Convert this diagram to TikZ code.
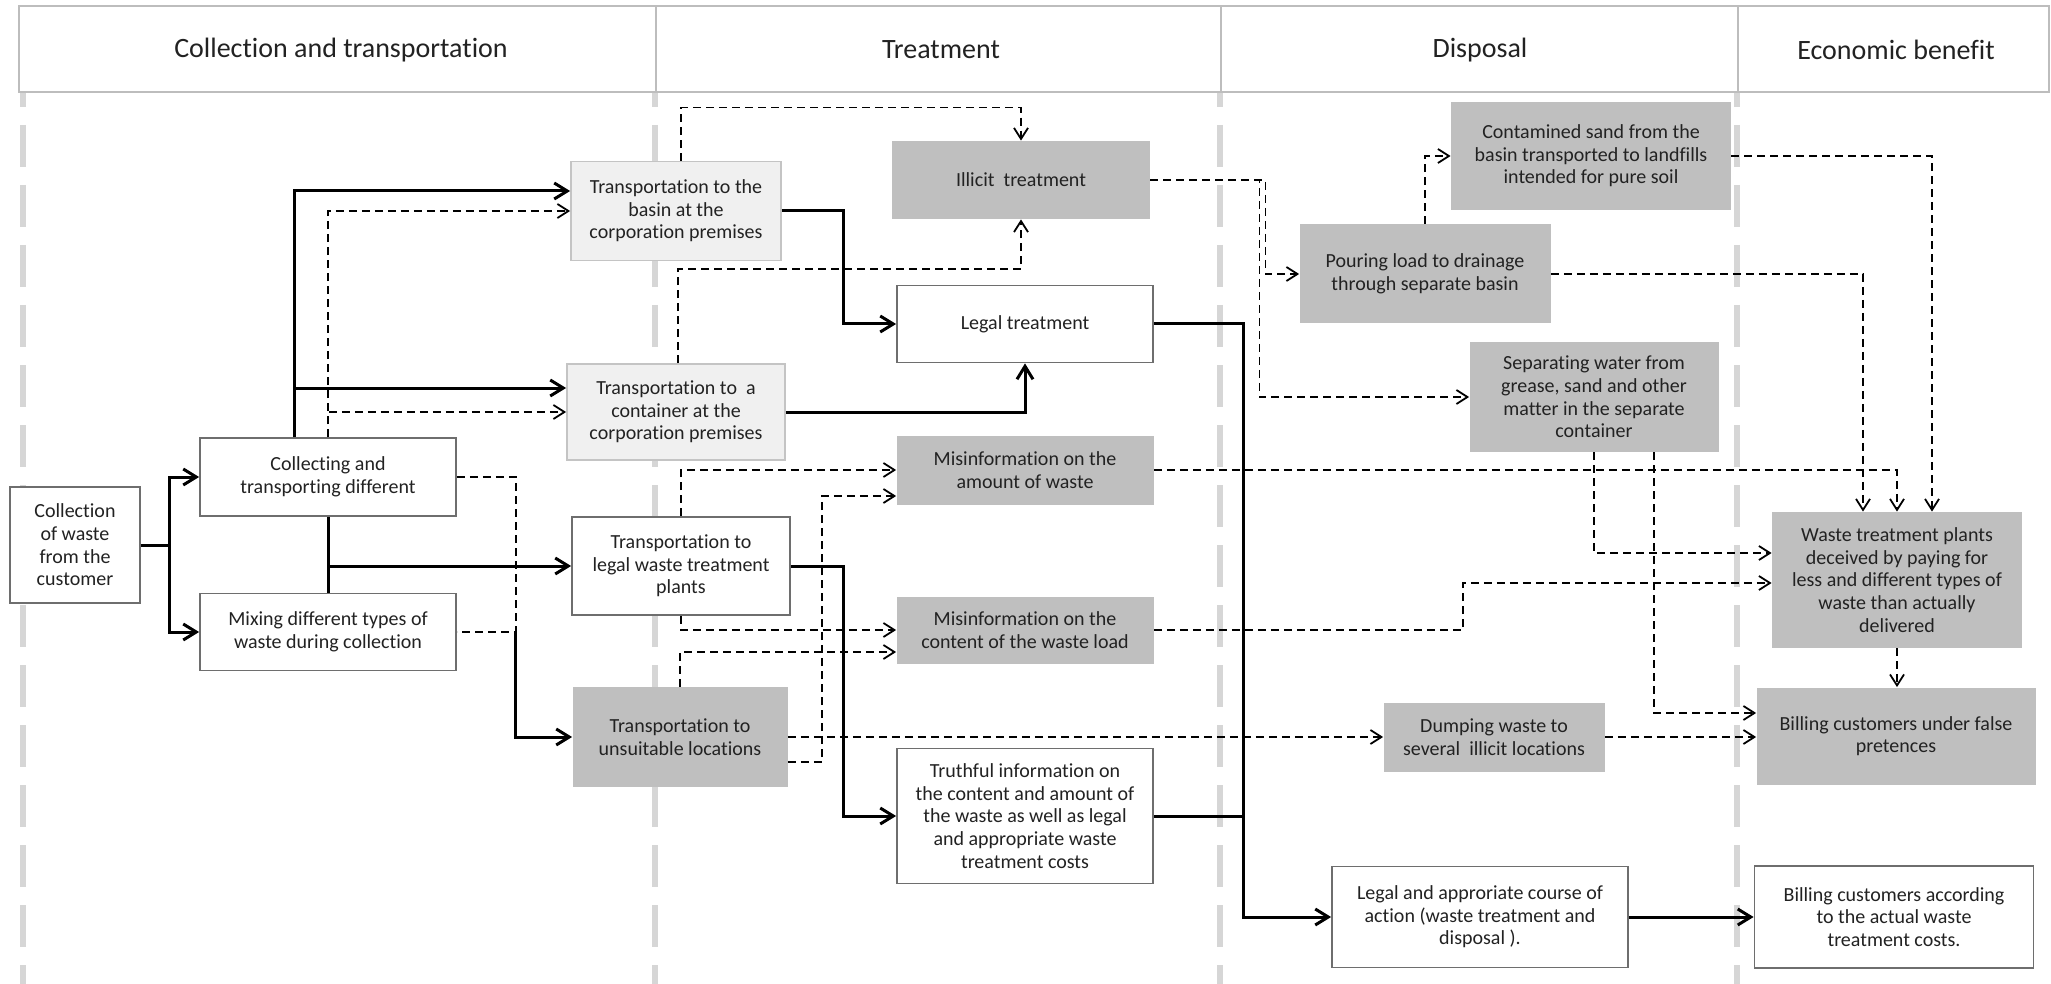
\documentclass[tikz,border=0pt]{standalone}
\usepackage{fontspec}
\setmainfont{Carlito}[Ligatures=NoCommon]
\usetikzlibrary{arrows.meta}
\definecolor{darkfill}{HTML}{BFBFBF}
\definecolor{lightfill}{HTML}{F0F0F0}
\definecolor{lightborder}{HTML}{C4C4C4}
\definecolor{bordergray}{HTML}{6E6E6E}
\definecolor{txt}{HTML}{222222}
\definecolor{lanegray}{HTML}{D6D6D6}
\definecolor{hdrline}{HTML}{BDBDBD}
\newcommand\nodefont{\fontsize{10}{11.3}\selectfont}
\newcommand\hdrfont{\fontsize{14}{16}\selectfont}
\tikzset{
  box/.style={rectangle, align=center, font=\nodefont, text=txt, inner sep=2pt},
  wbox/.style={box, draw=bordergray, line width=0.9pt, fill=white},
  lbox/.style={box, draw=lightborder, line width=0.9pt, fill=lightfill},
  dbox/.style={box, fill=darkfill},
  sol/.style={line width=1.5pt, draw=black},
  sola/.style={sol, -{Straight Barb[length=6.5pt,width=8pt]}},
  dsh/.style={line width=0.9pt, draw=black, dash pattern=on 4pt off 2.5pt},
  dsha/.style={dsh, -{Straight Barb[length=5.5pt,width=7pt]}},
  lane/.style={line width=2.8pt, draw=lanegray, dash pattern=on 21pt off 9pt, dash phase=13.5pt},
  hdr/.style={line width=0.9pt, draw=hdrline},
  hlabel/.style={font=\hdrfont, text=txt, inner sep=0pt}
}
\begin{document}
\begin{tikzpicture}[x=0.5pt,y=-0.5pt]
\useasboundingbox (0,0) rectangle (2051,984);
\fill[white] (0,0) rectangle (2051,984);
% lanes
\draw[lane] (23,92) -- (23,984);
\draw[lane] (655,92) -- (655,984);
\draw[lane] (1220,92) -- (1220,984);
\draw[lane] (1737,92) -- (1737,984);
% header
\draw[hdr] (19,6) rectangle (2049,92);
\draw[hdr] (656,6) -- (656,92);
\draw[hdr] (1221,6) -- (1221,92);
\draw[hdr] (1738,6) -- (1738,92);
\node[hlabel] (h1) at (341,50) {Collection and transportation};
\node[hlabel] (h2) at (941,50) {Treatment};
\node[hlabel] (h3) at (1480,50) {Disposal};
\node[hlabel] (h4) at (1896,50) {Economic benefit};
% nodes
\node[wbox, minimum width=65pt, minimum height=58pt] (cust) at (75,545) {Collection\\of waste\\from the\\customer};
\node[wbox, minimum width=128pt, minimum height=39pt] (colldiff) at (328,477) {Collecting and\\transporting different};
\node[wbox, minimum width=128pt, minimum height=38.5pt] (mixing) at (328,632) {Mixing different types of\\waste during collection};
\node[lbox, minimum width=105pt, minimum height=49.5pt] (basin) at (676,211) {Transportation to the\\basin at the\\corporation premises};
\node[lbox, minimum width=109pt, minimum height=48pt] (container) at (676,412) {Transportation to~ a\\container at the\\corporation premises};
\node[wbox, minimum width=109pt, minimum height=49pt] (legalplants) at (681,566) {Transportation to\\legal waste treatment\\plants};
\node[dbox, minimum width=107.5pt, minimum height=50pt] (unsuitable) at (680,737) {Transportation to\\unsuitable locations};
\node[dbox, minimum width=129pt, minimum height=39pt] (illicit) at (1021,180) {Illicit~~treatment};
\node[wbox, minimum width=128pt, minimum height=38.5pt] (legaltreat) at (1025,324) {Legal treatment};
\node[dbox, minimum width=128.5pt, minimum height=34.5pt] (misamount) at (1025,470) {Misinformation on the\\amount of waste};
\node[dbox, minimum width=128.5pt, minimum height=33.5pt] (miscontent) at (1025,630) {Misinformation on the\\content of the waste load};
\node[wbox, minimum width=128pt, minimum height=67.5pt] (truthful) at (1025,816) {Truthful information on\\the content and amount of\\the waste as well as legal\\and appropriate waste\\treatment costs};
\node[dbox, minimum width=140pt, minimum height=54pt] (contamined) at (1591,156) {Contamined sand from the\\basin transported to landfills\\intended for pure soil};
\node[dbox, minimum width=125.5pt, minimum height=49.5pt] (pouring) at (1425,274) {Pouring load to drainage\\through separate basin};
\node[dbox, minimum width=124.5pt, minimum height=55pt] (separating) at (1594,397) {Separating water from\\grease, sand and other\\matter in the separate\\container};
\node[dbox, minimum width=110.5pt, minimum height=34.5pt] (dumping) at (1494,737) {Dumping waste to\\several~ illicit locations};
\node[wbox, minimum width=148pt, minimum height=50.5pt] (legalcourse) at (1480,917) {Legal and approriate course of\\action (waste treatment and\\disposal ).};
\node[dbox, minimum width=125pt, minimum height=68pt] (deceived) at (1897,580) {Waste treatment plants\\deceived by paying for\\less and different types of\\waste than actually\\delivered};
\node[dbox, minimum width=139.5pt, minimum height=48.5pt] (billfalse) at (1896,736) {Billing customers under false\\pretences};
\node[wbox, minimum width=139.5pt, minimum height=51pt] (billactual) at (1894,917) {Billing customers according\\to the actual waste\\treatment costs.};
% solid connectors
\draw[sola] (cust.east) -- ++(29,0) |- (colldiff.west);
\draw[sola] (cust.east) -- ++(29,0) |- (mixing.west);
\draw[sola] ([xshift=-17pt]colldiff.north) |- ([yshift=10pt]basin.west);
\draw[sola] ([xshift=-17pt]colldiff.north) |- ([yshift=12pt]container.west);
\draw[sol] (colldiff.south) -- (mixing.north);
\draw[sola] (colldiff.south |- legalplants.west) -- (legalplants.west);
\draw[sola] (basin.east) -- ++(62,0) |- (legaltreat.west);
\draw[sola] (container.east) -| (legaltreat.south);
\draw[sola] (legaltreat.east) -- ++(90,0) |- (legalcourse.west);
\draw[sola] (legalplants.east) -- ++(53,0) |- (truthful.west);
\draw[sol] (truthful.east) -- ++(90,0);
\draw[sola] (legalcourse.east) -- (billactual.west);
\draw[sola] ([xshift=29.5pt]mixing.east) |- (unsuitable.west);
% dashed connectors
\draw[dsh] (colldiff.east) -- ++(59,0) |- (mixing.east);
\draw[dsha] (colldiff.north) |- (basin.west);
\draw[dsha] (colldiff.north) |- (container.west);
\draw[dsha] ([xshift=2.5pt]basin.north) -- ++(0,-53) -| (illicit.north);
\draw[dsha] ([xshift=1pt]container.north) -- ++(0,-94) -| (illicit.south);
\draw[dsha] (legalplants.north) |- (misamount.west);
\draw[dsha] ([yshift=-12.5pt]unsuitable.east) -- ++(34,0) |- ([yshift=-13pt]misamount.west);
\draw[dsha] (legalplants.south) |- (miscontent.west);
\draw[dsha] (unsuitable.north) |- ([yshift=-11pt]miscontent.west);
\draw[dsha] (unsuitable.east) -- (dumping.west);
\draw[dsha] (illicit.east) -- ++(109,0) |- (separating.west);
\draw[dsha] (illicit.east) -- ++(115,0) |- (pouring.west);
\draw[dsha] (pouring.north) |- (contamined.west);
\draw[dsha] (contamined.east) -| ([xshift=17.5pt]deceived.north);
\draw[dsha] (pouring.east) -| ([xshift=-17pt]deceived.north);
\draw[dsha] (misamount.east) -| (deceived.north);
\draw[dsha] (separating.south) |- ([yshift=13.5pt]deceived.west);
\draw[dsha] ([xshift=30pt]separating.south) |- ([yshift=11.5pt]billfalse.west);
\draw[dsha] (miscontent.east) -- ++(309,0) |- ([yshift=-1.5pt]deceived.west);
\draw[dsha] (dumping.east) -- (billfalse.west |- dumping.east);
\draw[dsha] (deceived.south) -- (deceived.south |- billfalse.north);
\end{tikzpicture}
\end{document}
